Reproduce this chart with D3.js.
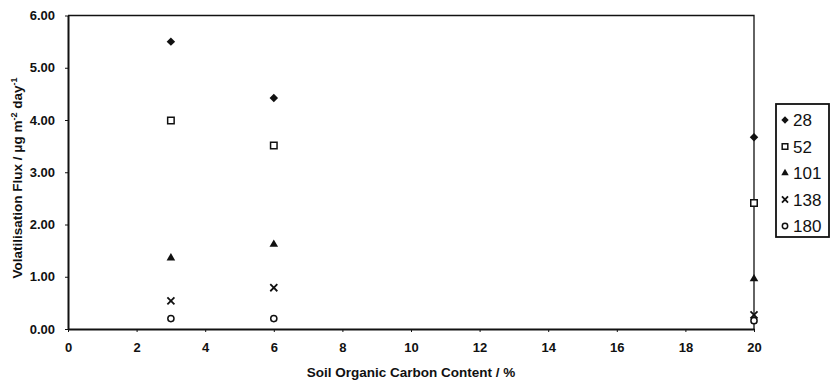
<!DOCTYPE html>
<html>
<head>
<meta charset="utf-8">
<script src="https://cdn.jsdelivr.net/npm/d3@7"></script>
<style>
  body { margin: 0; background: #fff; }
  text { font-family: "Liberation Sans", Arial, sans-serif; fill: #111; }
  .axis text { font-size: 13px; font-weight: bold; }
  .axis path, .axis line { stroke: #111; }
  .label { font-size: 13.5px; font-weight: bold; }
  .legend text { font-size: 17px; }
</style>
</head>
<body>
<svg width="834" height="382"></svg>
<script>
// Soil organic carbon content (%) at each sample
var carbon = [3, 6, 20];

// Volatilisation flux for each series (legend labels)
var seriesNames = ["28", "52", "101", "138", "180"];
var flux28 = [5.50, 4.42, 3.67];
var flux52 = [3.99, 3.51, 2.41];
var flux101 = [1.36, 1.62, 0.96];
var flux138 = [0.54, 0.79, 0.27];
var flux180 = [0.20, 0.20, 0.16];

var xTicks = [0, 2, 4, 6, 8, 10, 12, 14, 16, 18, 20];
var yTicks = [0, 1, 2, 3, 4, 5, 6];

var svg = d3.select("svg");
var svgWidth = +svg.attr("width");
var svgHeight = +svg.attr("height");

// plot area
var margin = {top: 15.5, left: 68, bottom: 53, right: 80};
var width = svgWidth - margin.left - margin.right;
var height = svgHeight - margin.top - margin.bottom;

var g = svg.append("g")
    .attr("transform", "translate(" + [margin.left, margin.top] + ")");

var xScale = d3.scaleLinear().domain([0, 20]).range([0, width]);
var yScale = d3.scaleLinear().domain([0, 6]).range([height, 0]);

// plot border (top and right)
g.append("path")
    .attr("d", "M0,0H" + width + "V" + height)
    .attr("fill", "none")
    .attr("stroke", "#111")
    .attr("stroke-width", 1.3);

// axes
var xAxisG = g.append("g")
    .attr("class", "axis")
    .attr("transform", "translate(0," + height + ")")
    .call(d3.axisBottom(xScale).tickValues(xTicks).tickSize(3).tickSizeOuter(0).tickPadding(11));
var yAxisG = g.append("g")
    .attr("class", "axis")
    .call(d3.axisLeft(yScale).tickValues(yTicks).tickSize(3).tickSizeOuter(0).tickPadding(10)
        .tickFormat(d3.format(".2f")));
xAxisG.select(".domain").attr("stroke-width", 2);
yAxisG.select(".domain").attr("stroke-width", 2);

// axis titles
svg.append("text")
    .attr("class", "label")
    .attr("text-anchor", "middle")
    .attr("x", margin.left + width / 2)
    .attr("y", 377)
    .text("Soil Organic Carbon Content / %");

var yTitle = svg.append("text")
    .attr("class", "label")
    .attr("text-anchor", "middle")
    .attr("transform", "translate(22,178) rotate(-90)");
yTitle.append("tspan").text("Volatilisation Flux /  \u03bcg m");
yTitle.append("tspan").attr("font-size", "9px").attr("dy", -5).text("-2");
yTitle.append("tspan").attr("dy", 5).text(" day");
yTitle.append("tspan").attr("font-size", "9px").attr("dy", -5).text("-1");

// marker styles for each series
var markers = [
    {type: d3.symbolSquare, size: 36, rotate: 45, fill: "#111", stroke: "none"},
    {type: d3.symbolSquare, size: 42, rotate: 0, fill: "#fff", stroke: "#111"},
    {type: d3.symbolTriangle, size: 32, rotate: 0, fill: "#111", stroke: "none"},
    {type: d3.symbolX, size: 34, rotate: 0, fill: "none", stroke: "#111"},
    {type: d3.symbolCircle, size: 30, rotate: 0, fill: "#fff", stroke: "#111"}
];

var seriesValues = [flux28, flux52, flux101, flux138, flux180];
var series = seriesNames.map(function(name, i) {
    return {
        name: name,
        marker: markers[i],
        points: carbon.map(function(c, j) { return {x: c, y: seriesValues[i][j]}; })
    };
});

function drawMarker(sel, m) {
    sel.attr("d", d3.symbol().type(m.type).size(m.size))
        .attr("fill", m.fill)
        .attr("stroke", m.stroke)
        .attr("stroke-width", m.type === d3.symbolX ? 1.8 : 1.5);
}

series.forEach(function(s) {
    g.selectAll(".dot-" + s.name)
        .data(s.points)
        .enter()
        .append("path")
        .attr("class", "dot-" + s.name)
        .attr("transform", function(d) {
            return "translate(" + [xScale(d.x), yScale(d.y)] + ") rotate(" + s.marker.rotate + ")";
        })
        .call(drawMarker, s.marker);
});

// legend
var legend = svg.append("g").attr("class", "legend");
legend.append("rect")
    .attr("x", 776).attr("y", 104)
    .attr("width", 53).attr("height", 133)
    .attr("fill", "#fff")
    .attr("stroke", "#111")
    .attr("stroke-width", 1.8);

series.forEach(function(s, i) {
    var ly = 120 + i * 26.5;
    legend.append("path")
        .attr("transform", "translate(" + [785, ly] + ") rotate(" + s.marker.rotate + ")")
        .call(drawMarker, Object.assign({}, s.marker, {size: s.marker.size * 0.75}));
    legend.append("text")
        .attr("x", 793)
        .attr("y", ly + 6)
        .text(s.name);
});
</script>
</body>
</html>
